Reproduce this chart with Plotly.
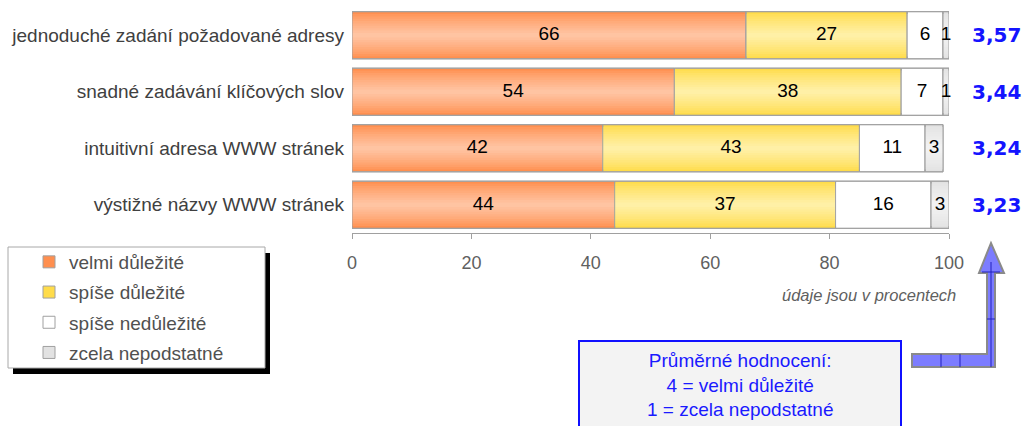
import plotly.graph_objects as go

# ---- data ----
categories = [
    "jednoduché zadání požadované adresy",
    "snadné zadávání klíčových slov",
    "intuitivní adresa WWW stránek",
    "výstižné názvy WWW stránek",
]
series_names = ["velmi důležité", "spíše důležité", "spíše nedůležité", "zcela nepodstatné"]
velmi = [66, 54, 42, 44]
spise = [27, 38, 43, 37]
nedulezite = [6, 7, 11, 16]
nepodstatne = [1, 1, 3, 3]
prumer = ["3,57", "3,44", "3,24", "3,23"]
tick_values = [0, 20, 40, 60, 80, 100]

series_values = [velmi, spise, nedulezite, nepodstatne]
# (edge colour, centre colour) for the vertical gradient of each series
series_colors = [
    ("#ff8f4f", "#ffc4a2"),
    ("#ffdc4a", "#fff0a6"),
    ("#ffffff", "#ffffff"),
    ("#e2e2e2", "#f2f2f2"),
]

FONT = "Liberation Sans, Arial, sans-serif"

# ---- layout geometry (pixels) ----
W, H = 1024, 426
L, R, T, B = 352, 949, 7, 233
BAR_W = 0.835
N_STEPS = 10


def px_x(p):
    return (p - L) / (R - L)


def px_y(p):
    return (B - p) / (B - T)


def mix(c1, c2, t):
    a = [int(c1[i:i + 2], 16) for i in (1, 3, 5)]
    b = [int(c2[i:i + 2], 16) for i in (1, 3, 5)]
    return "#" + "".join(f"{round(a[k] + (b[k] - a[k]) * t):02x}" for k in range(3))


fig = go.Figure()

bases = [0] * len(categories)
for name, vals, (edge, centre) in zip(series_names, series_values, series_colors):
    base = list(bases)
    # stacked narrowing layers give the banded gradient fill
    for k in range(N_STEPS):
        t = k / (N_STEPS - 1)
        fig.add_trace(go.Bar(
            y=categories, x=vals, base=base, orientation="h",
            width=BAR_W * (1 - k / N_STEPS),
            marker=dict(color=mix(edge, centre, t ** 0.8),
                        line=dict(color="#a0a0a0", width=1 if k == 0 else 0)),
            name=name, legendgroup=name, showlegend=(k == 0),
            hoverinfo="skip",
        ))
    # outline on top of the gradient
    fig.add_trace(go.Bar(
        y=categories, x=vals, base=base, orientation="h", width=BAR_W,
        marker=dict(color="rgba(0,0,0,0)", line=dict(color="#a0a0a0", width=1)),
        showlegend=False, legendgroup=name, hoverinfo="skip",
    ))
    # value labels at the segment centres
    fig.add_trace(go.Scatter(
        y=categories, x=[b + v / 2 for b, v in zip(base, vals)],
        mode="text", text=[str(v) for v in vals],
        textfont=dict(family=FONT, size=19, color="#000000"),
        cliponaxis=False, showlegend=False, hoverinfo="skip",
    ))
    bases = [b + v for b, v in zip(bases, vals)]

# average rating at the right of each bar
for cat, val in zip(categories, prumer):
    fig.add_annotation(
        x=px_x(997), xref="paper", y=cat, yref="y", text=val, showarrow=False,
        font=dict(family="DejaVu Sans", size=20, color="#1414ff", weight="bold"),
        xanchor="center", yanchor="middle",
    )

shapes = []
# legend frame with drop shadow
shapes.append(dict(type="rect", xref="paper", yref="paper",
                   x0=px_x(13), x1=px_x(270), y0=px_y(253), y1=px_y(374),
                   fillcolor="#000000", line=dict(width=0), layer="above"))
shapes.append(dict(type="rect", xref="paper", yref="paper",
                   x0=px_x(8), x1=px_x(265), y0=px_y(247), y1=px_y(368),
                   fillcolor="#ffffff", line=dict(color="#a8a8a8", width=1), layer="above"))
# info box
shapes.append(dict(type="rect", xref="paper", yref="paper",
                   x0=px_x(579), x1=px_x(901), y0=px_y(341), y1=px_y(440),
                   fillcolor="#f3f3f3", line=dict(color="#1010ff", width=2), layer="above"))

# L-shaped arrow pointing up to the averages
arrow_pts = [(912, 354), (987, 354), (987, 273), (979, 273), (991, 243),
             (1004, 273), (995, 273), (995, 367), (912, 367)]
path = "M " + " L ".join(f"{px_x(x):.5f},{px_y(y):.5f}" for x, y in arrow_pts) + " Z"
shapes.append(dict(type="path", xref="paper", yref="paper", path=path,
                   fillcolor="#7c7cff", line=dict(color="#8a8a8a", width=2), layer="above"))
for (x0, y0, x1, y1) in [(991, 262, 991, 367), (941, 354, 941, 367), (960, 354, 960, 367),
                         (982, 272, 1000, 272), (987, 319, 995, 319)]:
    shapes.append(dict(type="line", xref="paper", yref="paper",
                       x0=px_x(x0), x1=px_x(x1), y0=px_y(y0), y1=px_y(y1),
                       line=dict(color="#2020c0", width=1), layer="above"))

fig.add_annotation(
    x=px_x(740), xref="paper", y=px_y(385), yref="paper",
    text="Průměrné hodnocení:<br>4 = velmi důležité<br>1 = zcela nepodstatné",
    showarrow=False, align="center", xanchor="center", yanchor="middle",
    font=dict(family=FONT, size=19, color="#1a1aff"),
)
fig.add_annotation(
    x=px_x(958), xref="paper", y=px_y(295), yref="paper",
    text="<i>údaje jsou v procentech</i>", showarrow=False,
    xanchor="right", yanchor="middle",
    font=dict(family=FONT, size=16.5, color="#606060"),
)

fig.update_layout(
    width=W, height=H,
    margin=dict(l=L, r=W - R, t=T, b=H - B, pad=0),
    barmode="overlay",
    plot_bgcolor="#ffffff", paper_bgcolor="#ffffff",
    shapes=shapes,
    showlegend=True,
    legend=dict(
        x=px_x(29), xanchor="left", y=px_y(243), yanchor="top",
        bgcolor="rgba(0,0,0,0)", borderwidth=0,
        font=dict(family=FONT, size=19, color="#505050"),
        tracegroupgap=2.5, traceorder="grouped",
    ),
    xaxis=dict(
        range=[0, 100], tickvals=tick_values, showgrid=False, zeroline=False,
        showline=True, linecolor="#a0a0a0", linewidth=1,
        ticks="outside", ticklen=5, tickcolor="#a0a0a0", ticklabelstandoff=8,
        tickfont=dict(family=FONT, size=18, color="#606060"),
    ),
    yaxis=dict(
        categoryorder="array", categoryarray=categories,
        range=[3.5, -0.5], showgrid=False, zeroline=False, showline=False,
        ticks="", ticklabelstandoff=7,
        tickfont=dict(family=FONT, size=19, color="#404040"),
    ),
)

fig.write_html("out.html")
